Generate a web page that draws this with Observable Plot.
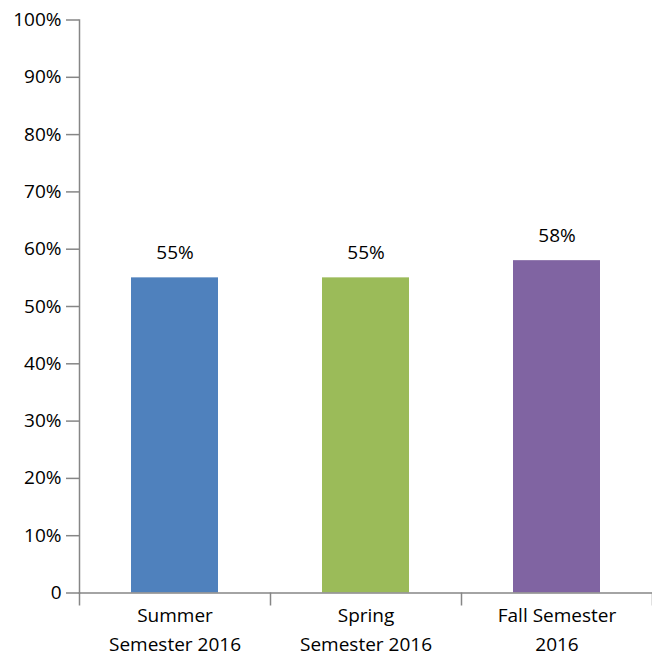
<!DOCTYPE html>
<html>
<head>
<meta charset="utf-8">
<script src="https://cdn.jsdelivr.net/npm/d3@7"></script>
<script src="https://cdn.jsdelivr.net/npm/@observablehq/plot@0.6"></script>
<style>
  html, body { margin: 0; padding: 0; background: #fff; }
</style>
</head>
<body>
<div id="chart"></div>
<script>
const categories = ["Summer Semester 2016", "Spring Semester 2016", "Fall Semester 2016"];
const categoryLabels = ["Summer\nSemester 2016", "Spring\nSemester 2016", "Fall Semester\n2016"];
const values = [55, 55, 58];
const colors = ["#4F81BD", "#9BBB59", "#8064A2"];
const yTicks = [0, 10, 20, 30, 40, 50, 60, 70, 80, 90, 100];

const data = categories.map((c, i) => ({category: c, label: categoryLabels[i], value: values[i], color: colors[i]}));
const axisGrey = "#868686";
const step = (652 - 79) / categories.length;

const chart = Plot.plot({
  width: 652,
  height: 656,
  marginLeft: 79,
  marginRight: 0,
  marginTop: 19.5,
  marginBottom: 63.5,
  style: {fontFamily: "'Open Sans', sans-serif", fontSize: "19px", color: "black", background: "white"},
  x: {domain: categories, padding: 0, axis: null},
  y: {domain: [0, 100], axis: null},
  marks: [
    Plot.barY(data, {x: "category", y: "value", fill: "color", insetLeft: 52, insetRight: 52}),
    Plot.text(data, {x: "category", y: "value", text: d => d.value + "%", dy: -25, fontSize: 19, fill: "black"}),
    Plot.axisY({ticks: yTicks, tickSize: 13, tickPadding: 5, stroke: axisGrey, strokeWidth: 1.5, fill: "black", fontSize: 19,
      tickFormat: d => d === 0 ? "0" : d + "%", label: null}),
    Plot.frame({anchor: "left", stroke: axisGrey, strokeWidth: 1.5}),
    Plot.frame({anchor: "bottom", stroke: axisGrey, strokeWidth: 1.5}),
    Plot.axisX({ticks: categories, tickSize: 13, dx: step / 2, text: null, stroke: axisGrey, strokeWidth: 1.5, label: null}),
    Plot.axisX({ticks: [categories[0]], tickSize: 13, dx: -step / 2, text: null, stroke: axisGrey, strokeWidth: 1.5, label: null}),
    Plot.text(data, {x: "category", text: "label", frameAnchor: "bottom", lineAnchor: "top", dy: 9, lineHeight: 1.5, fontSize: 19, fill: "black"})
  ]
});
document.getElementById("chart").appendChild(chart);
</script>
</body>
</html>
